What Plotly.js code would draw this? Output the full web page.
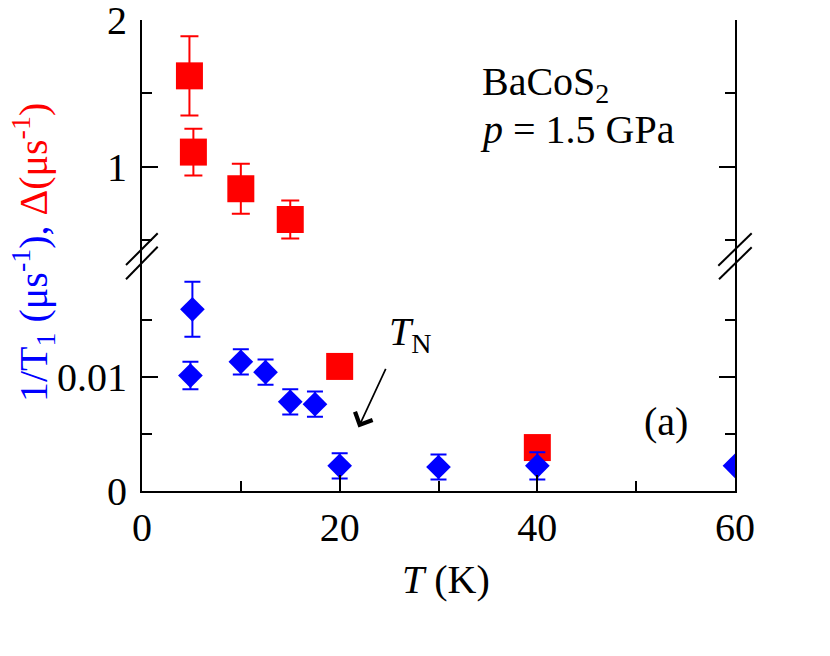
<!DOCTYPE html>
<html>
<head>
<meta charset="utf-8">
<script src="https://cdn.plot.ly/plotly-3.0.1.min.js"></script>
<style>
  html, body { margin: 0; padding: 0; background: #fff; }
  #chart { width: 830px; height: 656px; }
</style>
</head>
<body>
<div id="chart"></div>
<script>
// ─── Data ─────────────────────────────────────────────────────────────────────

// Δ (μs^-1), upper panel
const deltaT   = [4.8, 5.2, 10, 15];
const deltaVal = [1.62, 1.10, 0.85, 0.64];
const deltaErr = [0.27, 0.16, 0.17, 0.13];

// Δ points that sit on the lower scale
const deltaLowT   = [20, 40];
const deltaLowVal = [0.0109, 0.0038];

// 1/T1 (μs^-1), lower panel
const rateT   = [5.1, 4.9, 10, 12.5, 15, 17.5, 20, 30, 40, 60];
const rateVal = [0.0159, 0.0101, 0.0113, 0.0104, 0.0078, 0.0076, 0.0022, 0.0021, 0.0022, 0.0022];
const rateErr = [0.0024, 0.0012, 0.0011, 0.0011, 0.0011, 0.0011, 0.0011, 0.0011, 0.0012, 0];

// ticks
const xTicks      = [0, 20, 40, 60];
const xMinorTicks = [10, 30, 50];
const yLowTicks       = [0, 0.01];
const yLowTickText    = ['0', '0.01'];
const yLowMinorTicks  = [0.005, 0.015];
const yHighTicks      = [1, 2];
const yHighTickText   = ['1', '2'];
const yHighMinorTicks = [0.5, 1.5];

// ─── Geometry helpers ────────────────────────────────────────────────────────

const W = 830, H = 656;
const M = { l: 142, r: 95, t: 20, b: 165 };
const PW = W - M.l - M.r;
const PH = H - M.t - M.b;
const px = x => (x - M.l) / PW;          // pixel -> paper x
const py = y => (H - M.b - y) / PH;      // pixel -> paper y

const FONT = "'Liberation Serif', 'Times New Roman', serif";
const RED  = '#ff0000';
const BLUE = '#0000ff';
const SPLIT = py(255);                   // where the two y panels meet

// ─── Traces ──────────────────────────────────────────────────────────────────

const traces = [
  {
    x: deltaT, y: deltaVal, xaxis: 'x', yaxis: 'y2',
    type: 'scatter', mode: 'markers',
    marker: { symbol: 'square', size: 27, color: RED },
    error_y: { type: 'data', array: deltaErr, color: RED, thickness: 2, width: 9 },
  },
  {
    x: deltaLowT, y: deltaLowVal, xaxis: 'x', yaxis: 'y',
    type: 'scatter', mode: 'markers',
    marker: { symbol: 'square', size: 27, color: RED },
  },
  {
    x: rateT, y: rateVal, xaxis: 'x', yaxis: 'y',
    type: 'scatter', mode: 'markers',
    marker: { symbol: 'diamond', size: 19, color: BLUE },
    error_y: { type: 'data', array: rateErr, color: BLUE, thickness: 2, width: 8 },
  },
];

// ─── Axes ────────────────────────────────────────────────────────────────────

const axisCommon = {
  showline: true, linecolor: '#000', linewidth: 2,
  ticks: 'inside', ticklen: 16, tickwidth: 2, tickcolor: '#000',
  showgrid: false, zeroline: false,
  ticklabeloverflow: 'allow',
  tickfont: { family: FONT, size: 40, color: '#000' },
};

const minorTicks = vals => ({
  tickmode: 'array', tickvals: vals, ticks: 'inside',
  ticklen: 10, tickwidth: 2, tickcolor: '#000',
});

const layout = {
  width: W, height: H,
  margin: M,
  paper_bgcolor: '#fff', plot_bgcolor: '#fff',
  showlegend: false,
  font: { family: FONT, color: '#000' },
  xaxis: Object.assign({}, axisCommon, {
    range: [0, 60], anchor: 'y',
    tickmode: 'array', tickvals: xTicks,
    minor: minorTicks(xMinorTicks),
  }),
  xaxis2: Object.assign({}, axisCommon, {
    range: [0, 60], matches: 'x', anchor: 'y2', side: 'top',
    overlaying: 'x',
    tickmode: 'array', tickvals: xTicks, showticklabels: false,
    minor: minorTicks(xMinorTicks),
  }),
  yaxis: Object.assign({}, axisCommon, {
    domain: [0, SPLIT], range: [0, 0.02065], anchor: 'x',
    mirror: 'ticks',
    tickmode: 'array', tickvals: yLowTicks, ticktext: yLowTickText,
    ticklabelstandoff: 5,
    minor: minorTicks(yLowMinorTicks),
  }),
  yaxis2: Object.assign({}, axisCommon, {
    domain: [SPLIT, 1], range: [0.398, 2.001], anchor: 'x',
    mirror: 'ticks',
    tickmode: 'array', tickvals: yHighTicks, ticktext: yHighTickText,
    ticklabelstandoff: 5,
    minor: minorTicks(yHighMinorTicks),
  }),
  annotations: [
    {
      // y-axis title, two colours
      xref: 'paper', yref: 'paper', x: px(33), y: py(253),
      textangle: -90, showarrow: false,
      xanchor: 'center', yanchor: 'middle',
      font: { family: FONT, size: 40 },
      text: '<span style="color:' + BLUE + '">1/T<sub>1</sub> (μs<sup>-1</sup>),</span> ' +
            '<span style="color:' + RED + '">Δ(μs<sup>-1</sup>)</span>',
    },
    {
      xref: 'paper', yref: 'paper', x: px(446), y: py(579),
      showarrow: false, xanchor: 'center', yanchor: 'middle',
      font: { family: FONT, size: 40, color: '#000' },
      text: '<i>T</i> (K)',
    },
    {
      xref: 'paper', yref: 'paper', x: px(480), y: py(84),
      showarrow: false, xanchor: 'left', yanchor: 'middle',
      font: { family: FONT, size: 40, color: '#000' },
      text: 'BaCoS<sub>2</sub>',
    },
    {
      xref: 'paper', yref: 'paper', x: px(478), y: py(130),
      showarrow: false, xanchor: 'left', yanchor: 'middle',
      font: { family: FONT, size: 40, color: '#000' },
      text: '<i>p</i> = 1.5 GPa',
    },
    {
      xref: 'paper', yref: 'paper', x: px(666), y: py(421),
      showarrow: false, xanchor: 'center', yanchor: 'middle',
      font: { family: FONT, size: 40, color: '#000' },
      text: '(a)',
    },
    {
      xref: 'paper', yref: 'paper', x: px(410), y: py(334),
      showarrow: false, xanchor: 'center', yanchor: 'middle',
      font: { family: FONT, size: 40, color: '#000' },
      text: '<i>T</i><sub>N</sub>',
    },
    {
      // T_N arrow
      xref: 'x', yref: 'y', x: 21.9, y: 0.00556,
      ax: 28, ay: -60, text: '',
      showarrow: true, arrowhead: 4, arrowsize: 2.2, arrowwidth: 1.7,
      arrowcolor: '#000',
    },
  ],
  shapes: [
    // axis break marks, left and right
    [126, 265, 157.7, 233.3], [126, 279.3, 157.7, 246.7],
    [718.3, 265.7, 751.7, 233.3], [719, 279.3, 751.7, 247.3],
  ].map(([x0, y0, x1, y1]) => ({
    type: 'line', xref: 'paper', yref: 'paper',
    x0: px(x0), y0: py(y0), x1: px(x1), y1: py(y1),
    line: { color: '#000', width: 2 },
  })),
};

Plotly.newPlot('chart', traces, layout, { displayModeBar: false, staticPlot: true });
</script>
</body>
</html>
